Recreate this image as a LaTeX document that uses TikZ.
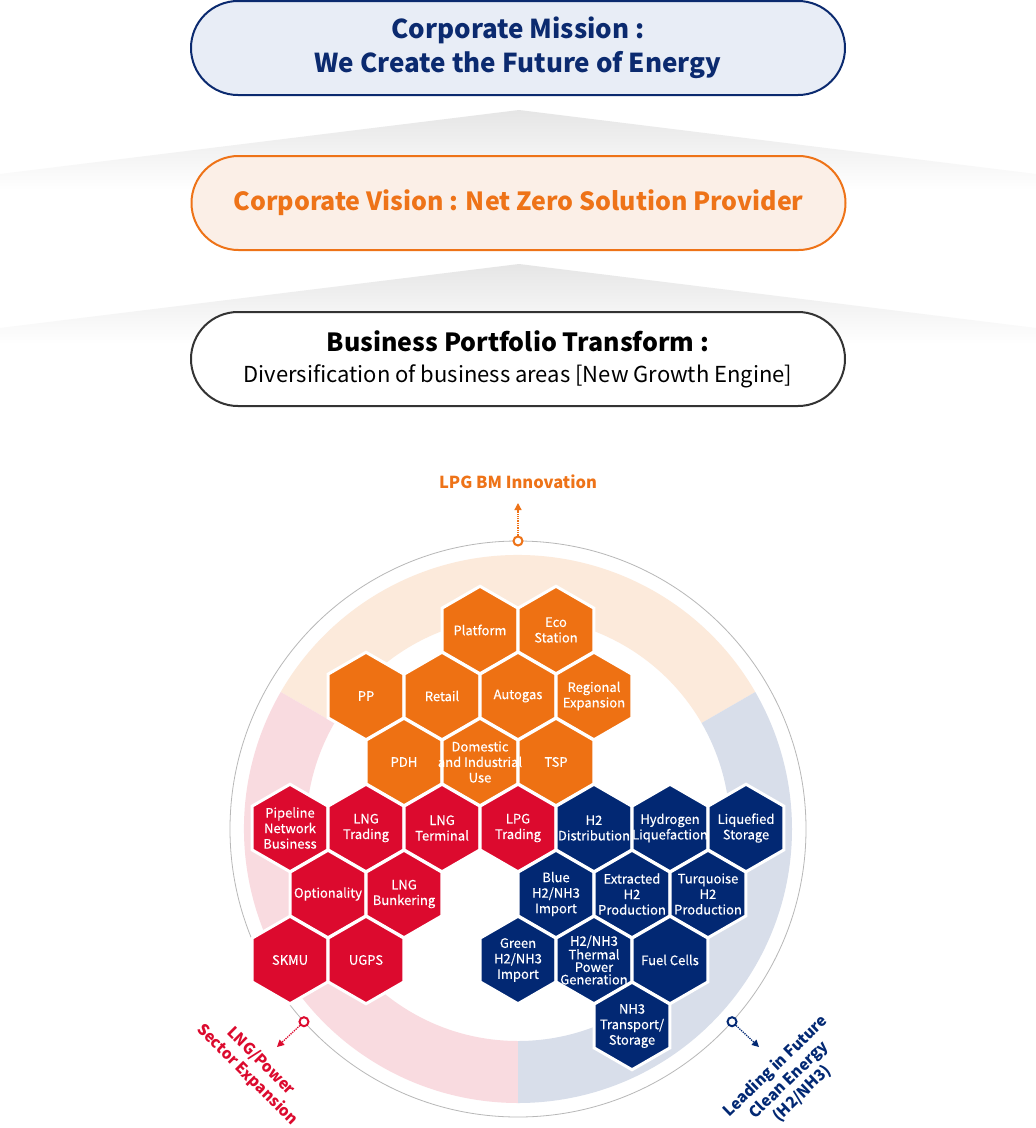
\documentclass[tikz,border=0pt]{standalone}
\usepackage{fontspec}
\setmainfont{Noto Sans CJK KR}
\newfontfamily\hexfont{Noto Sans CJK KR}[FakeBold=0.35]
\usetikzlibrary{shapes.geometric,arrows.meta,calc}
\definecolor{navy}{HTML}{0B2A6F}
\definecolor{navyfill}{HTML}{E8EDF6}
\definecolor{orng}{HTML}{EE7318}
\definecolor{orngfill}{HTML}{FBEFE7}
\definecolor{hexorange}{HTML}{EE7113}
\definecolor{hexred}{HTML}{DC0A2E}
\definecolor{hexnavy}{HTML}{022873}
\definecolor{bandpeach}{HTML}{FCEADB}
\definecolor{bandpink}{HTML}{F9DBE0}
\definecolor{bandblue}{HTML}{D8DEEA}
\definecolor{ringgray}{HTML}{B8B8B8}
\newcommand{\hexcell}[4]{\node[hexa, fill=#4] (#1) at (#2,#3) {};}
\newcommand{\hexlabel}[2]{\node[hextext] (#1t) at (#1) {#2};}
\begin{document}
\begin{tikzpicture}[x=1pt,y=-1pt,
  pill/.style={rounded corners=47pt, line width=2pt, minimum width=654pt, minimum height=94pt, align=center, inner sep=0pt},
  hexa/.style={regular polygon, regular polygon sides=6, shape border rotate=30, minimum size=87.5pt, inner sep=0pt, draw=white, line width=3pt},
  hextext/.style={text=white, align=center, font=\hexfont\fontsize{13}{15.5}\selectfont, inner sep=0pt},
  marker/.style={circle, fill=white, line width=2pt, minimum size=9pt, inner sep=0pt},
  dotarrow/.style={densely dotted, line width=1.3pt, -{Triangle[length=7pt,width=7pt]}},
  lab/.style={font=\bfseries\fontsize{15.5}{19}\selectfont, align=center, inner sep=0pt}
]
\fill[white] (0,0) rectangle (1036,1128);
\useasboundingbox (0,0) rectangle (1036,1128);

% chevron shadings
\shade[top color=black!10, bottom color=white] (0,174) -- (519,110) -- (1036,174) -- (1036,190) -- (0,190) -- cycle;
\shade[top color=black!10, bottom color=white] (0,328) -- (519,264) -- (1036,328) -- (1036,344) -- (0,344) -- cycle;

% boxes
\node[pill, draw=navy, fill=navyfill, text=navy, font=\bfseries\fontsize{26}{34}\selectfont] (mission) at (518,48) {Corporate Mission :\\We Create the Future of Energy};
\node[pill, draw=orng, fill=orngfill, text=orng, font=\bfseries\fontsize{25}{34}\selectfont] (vision) at (518.5,203) {Corporate Vision : Net Zero Solution Provider};
\node[pill, draw=black!80, fill=white, text=black, font=\fontsize{22}{31}\selectfont] (business) at (518,359) {{\bfseries\fontsize{25}{31}\selectfont Business Portfolio Transform :}\\Diversification of business areas [New Growth Engine]};

% ring
\coordinate (c) at (518,829);
\fill[bandpeach] ($(c)+(-30:274)$) arc[start angle=-30, end angle=-150, radius=274] -- ($(c)+(-150:212)$) arc[start angle=-150, end angle=-30, radius=212] -- cycle;
\fill[bandpink] ($(c)+(-150:274)$) arc[start angle=-150, end angle=-270, radius=274] -- ($(c)+(-270:212)$) arc[start angle=-270, end angle=-150, radius=212] -- cycle;
\fill[bandblue] ($(c)+(90:274)$) arc[start angle=90, end angle=-30, radius=274] -- ($(c)+(-30:212)$) arc[start angle=-30, end angle=90, radius=212] -- cycle;
\draw[ringgray, line width=0.8pt] (c) circle[radius=288];

% markers and arrows
\node[marker, draw=orng] (mtop) at ($(c)+(-90:288)$) {};
\node[marker, draw=hexred] (mleft) at ($(c)+(138:288)$) {};
\node[marker, draw=hexnavy] (mright) at ($(c)+(42:288)$) {};
\coordinate (atop) at (518,503);
\coordinate (aleft) at (277,1047);
\coordinate (aright) at (759,1047);
\draw[dotarrow, orng] (mtop) -- (atop);
\draw[dotarrow, hexred] (mleft) -- (aleft);
\draw[dotarrow, hexnavy] (mright) -- (aright);
\node[lab, text=orng, font=\bfseries\fontsize{16.5}{18}\selectfont] (ltop) at (518,482) {LPG BM Innovation};
\node[lab, text=hexred, rotate=-45] (lleft) at (254,1068) {LNG/Power\\Sector Expansion};
\node[lab, text=hexnavy, rotate=44] (lright) at (789,1080) {Leading in Future\\Clean Energy\\(H2/NH3)};

% hexagons
\hexcell{platform}{480}{630}{hexorange}
\hexcell{eco}{556}{630}{hexorange}
\hexcell{pp}{366}{696}{hexorange}
\hexcell{retail}{442}{696}{hexorange}
\hexcell{autogas}{518}{696}{hexorange}
\hexcell{regional}{594}{696}{hexorange}
\hexcell{pdh}{404}{762}{hexorange}
\hexcell{domestic}{480}{762}{hexorange}
\hexcell{tsp}{556}{762}{hexorange}
\hexcell{pipeline}{290}{828}{hexred}
\hexcell{lngtrading}{366}{828}{hexred}
\hexcell{lngterminal}{442}{828}{hexred}
\hexcell{lpgtrading}{518}{828}{hexred}
\hexcell{optionality}{328}{894}{hexred}
\hexcell{bunkering}{404}{894}{hexred}
\hexcell{skmu}{290}{960}{hexred}
\hexcell{ugps}{366}{960}{hexred}
\hexcell{h2dist}{594}{828}{hexnavy}
\hexcell{h2liq}{670}{828}{hexnavy}
\hexcell{liqstor}{746}{828}{hexnavy}
\hexcell{blue}{556}{894}{hexnavy}
\hexcell{extracted}{632}{894}{hexnavy}
\hexcell{turquoise}{708}{894}{hexnavy}
\hexcell{green}{518}{960}{hexnavy}
\hexcell{thermal}{594}{960}{hexnavy}
\hexcell{fuelcells}{670}{960}{hexnavy}
\hexcell{nh3}{632}{1026}{hexnavy}

% hexagon texts
\hexlabel{platform}{Platform}
\hexlabel{eco}{Eco\\Station}
\hexlabel{pp}{PP}
\hexlabel{retail}{Retail}
\hexlabel{autogas}{Autogas}
\hexlabel{regional}{Regional\\Expansion}
\hexlabel{pdh}{PDH}
\hexlabel{domestic}{Domestic\\and Industrial\\Use}
\hexlabel{tsp}{TSP}
\hexlabel{pipeline}{Pipeline\\Network\\Business}
\hexlabel{lngtrading}{LNG\\Trading}
\hexlabel{lngterminal}{LNG\\Terminal}
\hexlabel{lpgtrading}{LPG\\Trading}
\hexlabel{optionality}{Optionality}
\hexlabel{bunkering}{LNG\\Bunkering}
\hexlabel{skmu}{SKMU}
\hexlabel{ugps}{UGPS}
\hexlabel{h2dist}{H2\\Distribution}
\hexlabel{h2liq}{Hydrogen\\Liquefaction}
\hexlabel{liqstor}{Liquefied\\Storage}
\hexlabel{blue}{Blue\\H2/NH3\\Import}
\hexlabel{extracted}{Extracted\\H2\\Production}
\hexlabel{turquoise}{Turquoise\\H2\\Production}
\hexlabel{green}{Green\\H2/NH3\\Import}
\node[hextext, font=\hexfont\fontsize{13}{12.5}\selectfont] (thermalt) at (thermal) {H2/NH3\\Thermal\\Power\\Generation};
\hexlabel{fuelcells}{Fuel Cells}
\hexlabel{nh3}{NH3\\Transport/\\Storage}
\end{tikzpicture}
\end{document}
